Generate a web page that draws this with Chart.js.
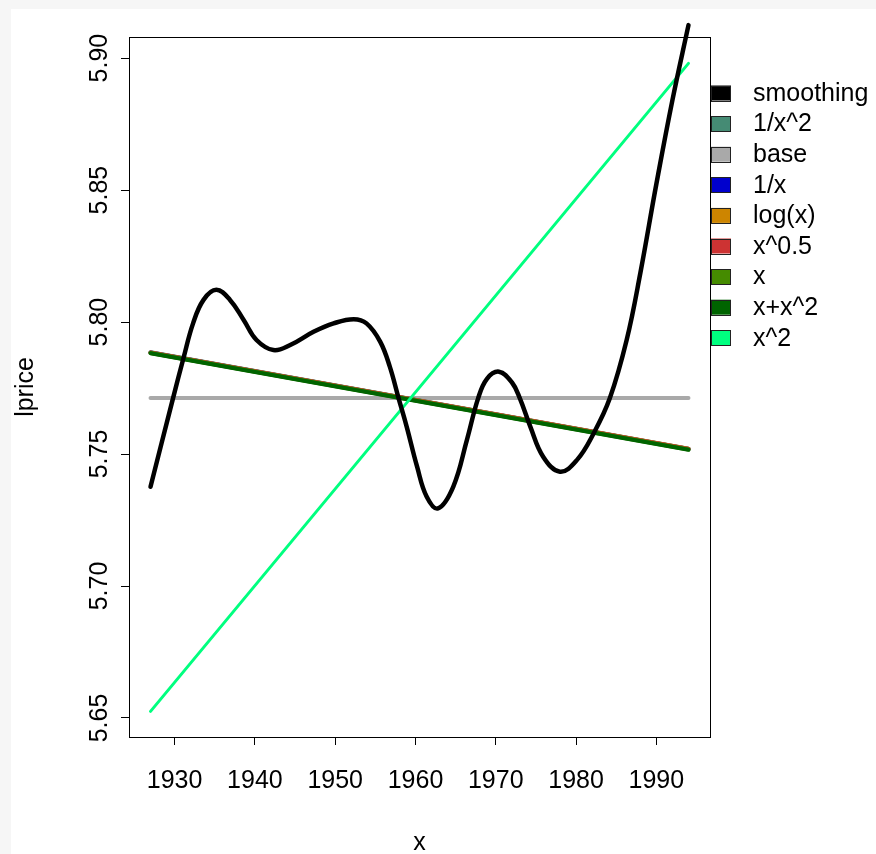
<!DOCTYPE html>
<html>
<head>
<meta charset="utf-8">
<script src="https://cdn.jsdelivr.net/npm/chart.js@4"></script>
<style>
  html, body { margin: 0; padding: 0; background: #ffffff; }
  #wrap { width: 876px; height: 854px; position: relative; }
</style>
</head>
<body>
<div id="wrap"><canvas id="c" width="876" height="854"></canvas></div>
<script>
// ---- data ----
const xTicks = [1930, 1940, 1950, 1960, 1970, 1980, 1990];
const yTicks = [5.65, 5.70, 5.75, 5.80, 5.85, 5.90];

const smoothYears  = [1927.0, 1929.8, 1931.1, 1932.3, 1933.6, 1935.2, 1936.9, 1938.6, 1940.2, 1942.3, 1944.4, 1947.3, 1949.8, 1952.3, 1953.9, 1955.6, 1956.8, 1957.9, 1958.9, 1960.2, 1961.4, 1962.8, 1964.7, 1966.4, 1967.8, 1968.9, 1970.4, 1972.0, 1973.0, 1974.3, 1975.9, 1978.0, 1980.1, 1982.2, 1984.2, 1986.3, 1988.0, 1990.0, 1992.0, 1994.0];
const smoothValues = [5.7376, 5.7711, 5.7863, 5.7995, 5.8084, 5.8122, 5.8084, 5.8008, 5.7932, 5.7894, 5.7913, 5.7963, 5.7995, 5.8011, 5.7995, 5.7926, 5.7831, 5.7711, 5.7604, 5.7452, 5.7338, 5.7294, 5.7376, 5.7553, 5.7711, 5.7785, 5.7812, 5.7772, 5.7711, 5.7604, 5.7490, 5.7433, 5.7477, 5.7579, 5.7711, 5.7932, 5.8185, 5.8523, 5.8841, 5.9125];

const fitYears   = [1927, 1994];
const invSqVals  = [5.7886, 5.7520];
const baseVals   = [5.7712, 5.7712];
const invVals    = [5.7885, 5.7519];
const logVals    = [5.7885, 5.7520];
const sqrtVals   = [5.7884, 5.7519];
const linVals    = [5.7883, 5.7517];
const quadLinVals= [5.7882, 5.7516];
const sqVals     = [5.6525, 5.8980];

const seriesNames  = ['smoothing', '1/x^2', 'base', '1/x', 'log(x)', 'x^0.5', 'x', 'x+x^2', 'x^2'];
const seriesColors = ['#000000', '#458B74', '#A9A9A9', '#0000CD', '#CD8500', '#CD3333', '#458B00', '#006400', '#00FF7F'];

function pts(xs, ys) { return xs.map((x, i) => ({ x: x, y: ys[i] })); }

const FONT = "'Liberation Sans', Arial, Helvetica, sans-serif";
const FS = 25;

const seriesData = [
  pts(smoothYears, smoothValues),
  pts(fitYears, invSqVals),
  pts(fitYears, baseVals),
  pts(fitYears, invVals),
  pts(fitYears, logVals),
  pts(fitYears, sqrtVals),
  pts(fitYears, linVals),
  pts(fitYears, quadLinVals),
  pts(fitYears, sqVals)
];
const widths = [4.5, 4, 4, 4, 4, 4, 4, 4, 3];
const orders = [0, 7, 8, 6, 5, 4, 3, 2, 1];

const datasets = seriesNames.map((name, i) => ({
  label: name,
  data: seriesData[i],
  borderColor: seriesColors[i],
  backgroundColor: seriesColors[i],
  borderWidth: widths[i],
  pointRadius: 0,
  fill: false,
  tension: i === 0 ? 0.4 : 0,
  borderCapStyle: 'round',
  borderJoinStyle: 'round',
  clip: i === 0 ? false : undefined,
  order: orders[i]
}));

const decorPlugin = {
  id: 'decor',
  beforeDraw(chart) {
    const ctx = chart.ctx;
    ctx.save();
    ctx.fillStyle = '#f6f6f6';
    ctx.fillRect(0, 0, chart.width, chart.height);
    ctx.fillStyle = '#ffffff';
    ctx.fillRect(11, 9, chart.width - 11, chart.height - 9);
    ctx.restore();
  },
  beforeDatasetsDraw(chart) {
    const ctx = chart.ctx, a = chart.chartArea;
    ctx.save();
    ctx.strokeStyle = '#000';
    ctx.lineWidth = 1;
    ctx.strokeRect(Math.round(a.left) + 0.5, Math.round(a.top) + 0.5, Math.round(a.right - a.left), Math.round(a.bottom - a.top));
    ctx.restore();
  },
  afterDraw(chart) {
    const ctx = chart.ctx, a = chart.chartArea;
    const ys = chart.scales.y;
    ctx.save();
    ctx.fillStyle = '#000';
    ctx.font = FS + 'px ' + FONT;
    ctx.textAlign = 'center';
    ctx.textBaseline = 'middle';
    // y tick labels, rotated
    ys.ticks.forEach(t => {
      const py = ys.getPixelForValue(t.value);
      ctx.save();
      ctx.translate(100, py);
      ctx.rotate(-Math.PI / 2);
      ctx.fillText(t.value.toFixed(2), 0, 0);
      ctx.restore();
    });
    // axis titles
    ctx.save();
    ctx.translate(26, (a.top + a.bottom) / 2);
    ctx.rotate(-Math.PI / 2);
    ctx.fillText('lprice', 0, 0);
    ctx.restore();
    ctx.fillText('x', (a.left + a.right) / 2, 843);
    // legend
    const sx = 711, sw = 20, sh = 15, y0 = 93, dy = 30.6;
    chart.data.datasets.forEach((ds, i) => {
      const cy = y0 + i * dy;
      ctx.fillStyle = ds.borderColor;
      ctx.fillRect(sx, cy - sh / 2, sw, sh);
      ctx.strokeStyle = '#222';
      ctx.lineWidth = 1;
      ctx.strokeRect(sx + 0.5, Math.round(cy - sh / 2) + 0.5, sw - 1, sh);
      ctx.fillStyle = '#000';
      ctx.textAlign = 'left';
      ctx.fillText(ds.label, 753, cy + 1);
    });
    ctx.restore();
  }
};

new Chart(document.getElementById('c'), {
  type: 'line',
  data: { datasets: datasets },
  options: {
    responsive: false,
    animation: false,
    layout: { padding: { left: 0, top: 37, right: 166, bottom: 0 } },
    plugins: { legend: { display: false }, tooltip: { enabled: false } },
    scales: {
      x: {
        type: 'linear',
        bounds: 'data',
        min: 1924.32,
        max: 1996.68,
        afterBuildTicks: s => { s.ticks = xTicks.map(v => ({ value: v })); },
        afterFit: s => { s.height = 117; },
        ticks: {
          autoSkip: false, maxRotation: 0, minRotation: 0,
          color: '#000', font: { size: FS, family: FONT },
          padding: 21,
          callback: v => String(Math.round(v))
        },
        grid: { display: true, drawOnChartArea: false, drawTicks: true, tickLength: 8, color: '#000', lineWidth: 1 },
        border: { display: false }
      },
      y: {
        type: 'linear',
        bounds: 'data',
        min: 5.6428,
        max: 5.908,
        afterBuildTicks: s => { s.ticks = yTicks.map(v => ({ value: v })); },
        afterFit: s => { s.width = 129; },
        ticks: { display: false },
        grid: { display: true, drawOnChartArea: false, drawTicks: true, tickLength: 8, color: '#000', lineWidth: 1 },
        border: { display: false }
      }
    }
  },
  plugins: [decorPlugin]
});
</script>
</body>
</html>
